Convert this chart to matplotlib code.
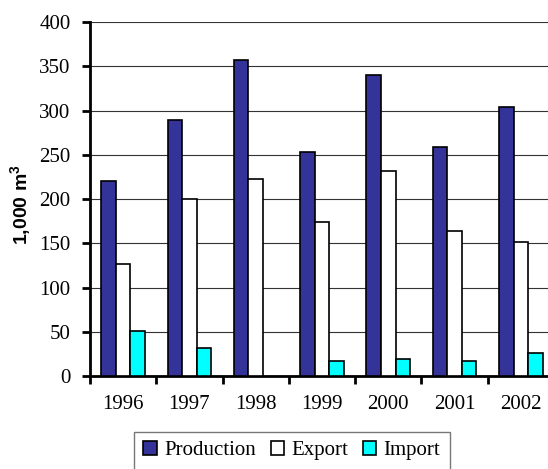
import numpy as np
import matplotlib.pyplot as plt
from matplotlib.ticker import MultipleLocator, FixedLocator

years = ['1996', '1997', '1998', '1999', '2000', '2001', '2002']
production = [221, 289, 357, 253, 340, 259, 304]
export = [127, 200, 223, 174, 232, 164, 151]
imports = [51, 32, 0, 17, 19, 17, 26]

serif = ['Liberation Serif', 'DejaVu Serif']

fig = plt.figure(figsize=(5.48, 4.69), dpi=100)
ax = fig.add_axes([0.1642, 0.1983, 0.8467, 0.7542])

x = np.arange(len(years))
w = 0.22
series = [(production, '#333399', 'Production', -w),
          (export, 'white', 'Export', 0),
          (imports, '#00FFFF', 'Import', w)]
for vals, col, name, off in series:
    bars = ax.bar(x + off, vals, w, color=col, edgecolor='black', linewidth=1.2,
                  label=name, zorder=3)
    # empty bars get no outline
    for b, v in zip(bars, vals):
        if v == 0:
            b.set_linewidth(0)

ax.set_xlim(-0.5, len(years) - 0.5)
ax.set_ylim(0, 400)
ax.yaxis.set_major_locator(MultipleLocator(50))
ax.yaxis.grid(True, color='#333333', linewidth=0.8, zorder=0)

ax.set_xticks(x)
ax.set_xticklabels(years, fontfamily=serif, fontsize=15)
ax.xaxis.set_minor_locator(FixedLocator(np.arange(-0.5, len(years), 1.0)))
ax.tick_params(axis='x', which='major', length=0, pad=14)
ax.tick_params(axis='x', which='minor', length=6, width=2, direction='out')
ax.tick_params(axis='y', length=6, width=2, direction='out', pad=8, labelsize=15)
for lab in ax.get_yticklabels():
    lab.set_fontfamily(serif)

for side in ['top', 'right']:
    ax.spines[side].set_visible(False)
for side in ['left', 'bottom']:
    ax.spines[side].set_linewidth(2)

ax.set_ylabel('1,000 m$^\\mathregular{3}$', fontfamily='Liberation Sans',
              fontweight='bold', fontsize=14)
ax.yaxis.set_label_coords(-0.12, 0.485)

fig.legend(loc='upper left', bbox_to_anchor=(134 / 548, 1 - 432 / 469), ncol=3,
           frameon=True, fancybox=False, edgecolor='#555555',
           prop={'family': serif, 'size': 15},
           handlelength=0.63, handleheight=0.6, handletextpad=0.37, columnspacing=0.7,
           borderpad=0.45, borderaxespad=0)

fig.savefig('out.png', dpi=100)
